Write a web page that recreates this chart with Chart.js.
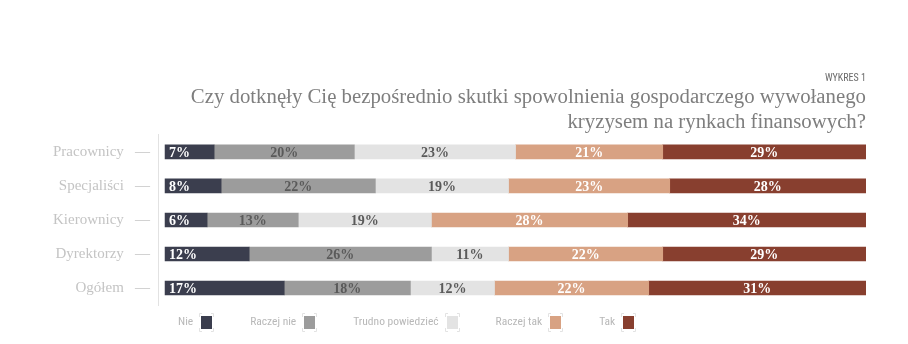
<!DOCTYPE html>
<html>
<head>
<meta charset="utf-8">
<script src="https://cdn.jsdelivr.net/npm/chart.js@4"></script>
<style>
  html, body { margin: 0; padding: 0; background: #fff; }
  #wrap { width: 908px; height: 344px; }
</style>
</head>
<body>
<div id="wrap"><canvas id="barChart" width="908" height="344"></canvas></div>
<script>
// categories and answer shares (%)
const groups = ['Pracownicy', 'Specjaliści', 'Kierownicy', 'Dyrektorzy', 'Ogółem'];
const answers = ['Nie', 'Raczej nie', 'Trudno powiedzieć', 'Raczej tak', 'Tak'];
const nie        = [7, 8, 6, 12, 17];
const raczejNie  = [20, 22, 13, 26, 18];
const trudno     = [23, 19, 19, 11, 12];
const raczejTak  = [21, 23, 28, 22, 22];
const tak        = [29, 28, 34, 29, 31];

const colors = ['#3b3e4e', '#9c9c9c', '#e3e3e3', '#d8a283', '#883f2f'];
const labelColors = ['#ffffff', '#5a5a5a', '#5a5a5a', '#ffffff', '#ffffff'];

const serif = '"Liberation Serif", "DejaVu Serif", serif';
const narrow = '"Liberation Sans Narrow", "Roboto Condensed", "Liberation Sans", sans-serif';

const series = [nie, raczejNie, trudno, raczejTak, tak];

// percentage labels inside the segments
const segmentLabels = {
  id: 'segmentLabels',
  afterDatasetsDraw(chart) {
    const ctx = chart.ctx;
    ctx.save();
    ctx.font = 'bold 14px ' + serif;
    ctx.textBaseline = 'middle';
    chart.data.datasets.forEach((ds, i) => {
      const meta = chart.getDatasetMeta(i);
      meta.data.forEach((bar, j) => {
        ctx.fillStyle = labelColors[i];
        const txt = ds.data[j] + '%';
        if (i === 0) {
          ctx.textAlign = 'left';
          ctx.fillText(txt, bar.base + 4, bar.y + 1);
        } else {
          ctx.textAlign = 'center';
          ctx.fillText(txt, (bar.x + bar.base) / 2, bar.y + 1);
        }
      });
    });
    ctx.restore();
  }
};

// legend: text first, then a bracketed colour box
const bracketLegend = {
  id: 'bracketLegend',
  afterDraw(chart) {
    const ctx = chart.ctx;
    ctx.save();
    ctx.font = '11.5px ' + narrow;
    ctx.textBaseline = 'middle';
    const y = 322;
    let x = 178;
    answers.forEach((name, i) => {
      ctx.fillStyle = '#b8b8b8';
      ctx.textAlign = 'left';
      ctx.fillText(name, x, y);
      x += ctx.measureText(name).width + 6;
      // brackets
      ctx.strokeStyle = '#e3e3e3';
      ctx.lineWidth = 1;
      const bx = Math.round(x), by = y - 9, bw = 15, bh = 19;
      ctx.beginPath();
      ctx.moveTo(bx + 3, by + 0.5); ctx.lineTo(bx + 0.5, by + 0.5); ctx.lineTo(bx + 0.5, by + 4);
      ctx.moveTo(bx + bw - 3, by + 0.5); ctx.lineTo(bx + bw - 0.5, by + 0.5); ctx.lineTo(bx + bw - 0.5, by + 4);
      ctx.moveTo(bx + 0.5, by + bh - 4); ctx.lineTo(bx + 0.5, by + bh - 0.5); ctx.lineTo(bx + 3, by + bh - 0.5);
      ctx.moveTo(bx + bw - 0.5, by + bh - 4); ctx.lineTo(bx + bw - 0.5, by + bh - 0.5); ctx.lineTo(bx + bw - 3, by + bh - 0.5);
      ctx.stroke();
      ctx.fillStyle = colors[i];
      ctx.fillRect(bx + 2, by + 3, bw - 4, bh - 6);
      x += bw + 36;
    });
    ctx.restore();
  }
};

const ctx = document.getElementById('barChart').getContext('2d');
new Chart(ctx, {
  type: 'bar',
  data: {
    labels: groups,
    datasets: answers.map((name, i) => ({
      label: name,
      data: series[i],
      backgroundColor: colors[i],
      borderWidth: 0,
      barThickness: 14
    }))
  },
  options: {
    indexAxis: 'y',
    responsive: false,
    animation: false,
    layout: { padding: { top: 72, right: 42, bottom: 39, left: 53 } },
    plugins: {
      legend: { display: false },
      tooltip: { enabled: false },
      title: {
        display: true,
        text: 'WYKRES 1',
        align: 'end',
        color: '#6a6a6a',
        font: { family: narrow, size: 10, weight: 'normal' },
        padding: { top: 0, bottom: 1 }
      },
      subtitle: {
        display: true,
        text: ['Czy dotknęły Cię bezpośrednio skutki spowolnienia gospodarczego wywołanego',
               'kryzysem na rynkach finansowych?'],
        align: 'end',
        color: '#7e7e7e',
        font: { family: serif, size: 20.8, lineHeight: 1.2 },
        padding: { top: 0, bottom: 0 }
      }
    },
    scales: {
      x: {
        stacked: true,
        min: -1,
        max: 100,
        display: false
      },
      y: {
        stacked: true,
        grid: { display: false },
        border: { display: true, color: '#e2e2e2' },
        ticks: {
          color: '#c4c4c4',
          font: { family: serif, size: 15 },
          padding: 0,
          callback(v) { return groups[v] + '   —'; }
        }
      }
    }
  },
  plugins: [segmentLabels, bracketLegend]
});
</script>
</body>
</html>
